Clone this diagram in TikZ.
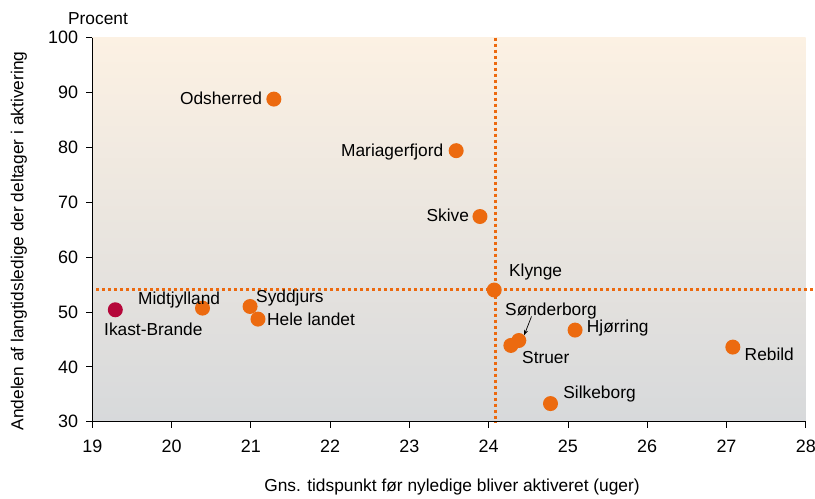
\documentclass[tikz,border=0pt]{standalone}
\usepackage{fontspec}
\setmainfont{Liberation Sans}
\usetikzlibrary{arrows.meta}
\definecolor{dotor}{HTML}{EC6A0F}
\definecolor{ikast}{HTML}{B5073A}
\definecolor{bgtop}{HTML}{FCF1E3}
\definecolor{bgbot}{HTML}{D7D9DB}
\begin{document}
\begin{tikzpicture}[x=1bp,y=1bp,
  every node/.style={font=\fontsize{17.4}{20}\selectfont, inner sep=0pt},
  ticklab/.style={font=\fontsize{18}{20}\selectfont},
  mk/.style={circle, fill=dotor, minimum size=15bp, inner sep=0pt},
  mkred/.style={circle, fill=ikast, minimum size=15bp, inner sep=0pt},
  lab/.style={text=black},
  guide/.style={dotor, line width=3bp, dash pattern=on 3bp off 3bp},
  axisline/.style={black, line width=1bp},
  tick/.style={black, line width=0.8bp}]
\useasboundingbox (0,0) rectangle (815,499);
% plot area corners in px (y up)
\coordinate (PA) at (92.3,77.3);
\coordinate (PB) at (805.7,461.3);
\shade[top color=bgtop, bottom color=bgbot] (PA) rectangle (PB);
\begin{scope}[shift={(-1413.83,-87.28)}, x=79.27bp, y=5.486bp]
  % guides
  \coordinate (hgL) at (19.05,54.1);
  \coordinate (hgR) at (28.09,54.1);
  \coordinate (vgT) at (24.08,100);
  \coordinate (vgB) at (24.08,30);
  \draw[guide] (hgL) -- (hgR);
  \draw[guide] (vgT) -- (vgB);
  % axes
  \coordinate (O) at (19,30);
  \coordinate (Ytop) at (19,100);
  \coordinate (Xend) at (28,30);
  \draw[axisline] (Ytop) -- (O) -- (Xend);
  \foreach \v in {30,40,...,100} {
    \draw[tick] (19,\v) -- ++(-6bp,0);
    \node[ticklab, anchor=east] (yt\v) at ([xshift=-14bp]19,\v) {\v};
  }
  \foreach \u in {19,...,28} {
    \draw[tick] (\u,30) -- ++(0,-6bp);
    \node[ticklab, anchor=north] (xt\u) at ([yshift=-18bp]\u,30) {\u};
  }
  % points
  \node[mk] (ods) at (21.29,88.8) {};
  \node[mk] (mar) at (23.59,79.4) {};
  \node[mk] (ski) at (23.89,67.4) {};
  \node[mk] (kly) at (24.07,54.0) {};
  \node[mk] (str) at (24.28,43.9) {};
  \node[mk] (son) at (24.38,44.8) {};
  \node[mk] (hjo) at (25.09,46.7) {};
  \node[mk] (reb) at (27.08,43.6) {};
  \node[mk] (sil) at (24.78,33.3) {};
  \node[mk] (mid) at (20.39,50.7) {};
  \node[mk] (syd) at (20.99,51.0) {};
  \node[mk] (hel) at (21.09,48.7) {};
  \node[mkred] (ika) at (19.29,50.4) {};
\end{scope}
% labels
\node[lab, anchor=east] (lods) at ([xshift=-4bp,yshift=1bp]ods.west) {Odsherred};
\node[lab, anchor=east] (lmar) at ([xshift=-5bp,yshift=-1bp]mar.west) {Mariagerfjord};
\node[lab, anchor=east] (lski) at ([xshift=-3bp,yshift=1bp]ski.west) {Skive};
\node[lab, anchor=west] (lkly) at ([xshift=7bp,yshift=18bp]kly.east) {Klynge};
\node[lab, anchor=west] (lson) at (505,188) {Sønderborg};
\node[lab, anchor=west] (lhjo) at ([xshift=4bp,yshift=2bp]hjo.east) {Hjørring};
\node[lab, anchor=west] (lstr) at (522,141) {Struer};
\node[lab, anchor=west] (lreb) at ([xshift=4bp,yshift=-7bp]reb.east) {Rebild};
\node[lab, anchor=west] (lsil) at ([xshift=5bp,yshift=10bp]sil.east) {Silkeborg};
\node[lab, anchor=west] (lmid) at (138,199) {Midtjylland};
\node[lab, anchor=west] (lsyd) at (256,201) {Syddjurs};
\node[lab, anchor=west] (lhel) at (267,180) {Hele landet};
\node[lab, anchor=west] (lika) at (104,170) {Ikast-Brande};
\coordinate (arrS) at (531.5,182.5);
\draw[-{Stealth[length=5bp,width=4bp]}, line width=0.7bp] (arrS) -- (son.north east);
% axis titles
\node[anchor=center] (ptitle) at (98,480) {Procent};
\node[anchor=center, rotate=90] (ytitle) at (19,258) {Andelen af langtidsledige der deltager i aktivering};
\node[anchor=center] (xtitle) at (452,12) {Gns. tidspunkt før nyledige bliver aktiveret (uger)};
\end{tikzpicture}
\end{document}
